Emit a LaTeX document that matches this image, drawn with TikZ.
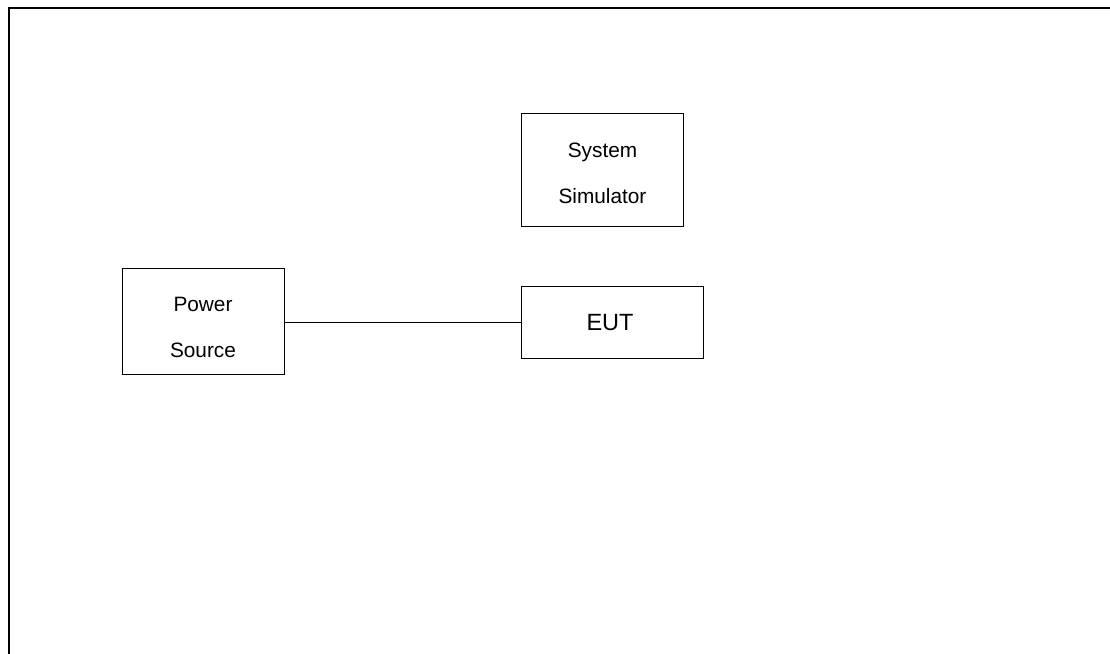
\documentclass[tikz,border=0pt]{standalone}
\usepackage{fontspec}
\setmainfont{Liberation Sans}
\begin{document}
\begin{tikzpicture}[x=1pt,y=-1pt,
  box/.style={draw=black,line width=1pt,minimum width=#1,inner sep=0pt,outer sep=0pt},
  lbl/.style={anchor=base,inner sep=0pt,font=\fontsize{20.8}{20.8}\selectfont},
  biglbl/.style={anchor=base,inner sep=0pt,font=\fontsize{23.5}{23.5}\selectfont},
  wire/.style={draw=black,line width=1pt}]
\useasboundingbox (0,0) rectangle (1110,653);
\begin{scope}
\clip (0,0) rectangle (1110,653);
\draw[line width=2.6pt] (9,700) -- (9,8) -- (1150,8);
\end{scope}
% boxes
\node[box=162pt,minimum height=113pt] (sim) at (602,169.5) {};
\node[box=162pt,minimum height=106pt] (ps) at (203,321) {};
\node[box=182pt,minimum height=72pt] (eut) at (612,322) {};
% labels
\node[lbl] (simA) at (602.5,157) {System};
\node[lbl] (simB) at (602.5,203) {Simulator};
\node[lbl] (psA) at (203,311) {Power};
\node[lbl] (psB) at (203,357) {Source};
\node[biglbl] (eutA) at (610,330) {EUT};
% connector
\draw[wire] (ps.east |- 0,322) -- (eut.west |- 0,322);
\end{tikzpicture}
\end{document}
